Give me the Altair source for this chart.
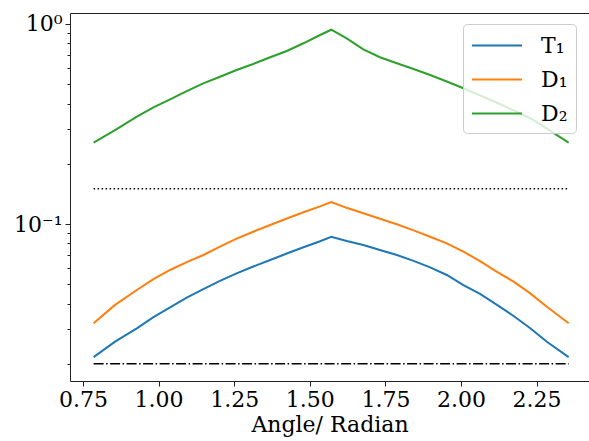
import altair as alt
import pandas as pd

# ---- data ----
x_vals = [0.785, 0.856, 0.928, 0.983, 1.038, 1.093, 1.148, 1.203, 1.258, 1.313,
          1.369, 1.424, 1.479, 1.534, 1.571, 1.622, 1.677, 1.732, 1.788, 1.843,
          1.898, 1.953, 2.008, 2.063, 2.119, 2.174, 2.229, 2.284, 2.356]
t1_vals = [0.0216, 0.0258, 0.0301, 0.0342, 0.0383, 0.0428, 0.0472, 0.052, 0.0567, 0.0613,
           0.0661, 0.0712, 0.0765, 0.082, 0.0864, 0.0823, 0.0785, 0.0742, 0.070, 0.0654,
           0.0607, 0.0556, 0.0495, 0.0447, 0.0394, 0.0347, 0.0301, 0.0258, 0.0216]
d1_vals = [0.0319, 0.0394, 0.0468, 0.0530, 0.0589, 0.0645, 0.070, 0.077, 0.0845, 0.0915,
           0.0989, 0.1065, 0.1145, 0.1225, 0.1288, 0.1205, 0.1131, 0.1062, 0.0997, 0.0930,
           0.0864, 0.080, 0.0727, 0.0653, 0.0577, 0.0515, 0.045, 0.0386, 0.0319]
d2_vals = [0.255, 0.295, 0.344, 0.383, 0.420, 0.462, 0.505, 0.545, 0.589, 0.631,
           0.682, 0.733, 0.801, 0.881, 0.936, 0.848, 0.747, 0.682, 0.636, 0.596,
           0.556, 0.516, 0.477, 0.440, 0.404, 0.370, 0.338, 0.300, 0.255]
series_names = ["T₁", "D₁", "D₂"]
series_colors = ["#1f77b4", "#ff7f0e", "#2ca02c"]
rule_x_start = [0.785]
rule_x_end = [2.356]
dotted_level = [0.15]
dashdot_level = [0.02]
x_ticks = [0.75, 1.0, 1.25, 1.5, 1.75, 2.0, 2.25]
y_major = [0.1, 1.0]
y_minor = [0.02, 0.03, 0.04, 0.05, 0.06, 0.07, 0.08, 0.09,
           0.2, 0.3, 0.4, 0.5, 0.6, 0.7, 0.8, 0.9]

rows = []
for name, vals in zip(series_names, [t1_vals, d1_vals, d2_vals]):
    for xv, yv in zip(x_vals, vals):
        rows.append({"x": xv, "v": yv, "series": name})
df = pd.DataFrame(rows)

dotted_df = pd.DataFrame({"x": rule_x_start, "x2": rule_x_end, "y": dotted_level})
dashdot_df = pd.DataFrame({"x": rule_x_start, "x2": rule_x_end, "y": dashdot_level})

FONT = "DejaVu Serif"
X_DOM = [0.707, 2.4233]
Y_DOM = [0.01641, 1.135]
W, H = 519, 368

def xs():
    return alt.Scale(domain=X_DOM, nice=False, zero=False)

def ys():
    return alt.Scale(type="log", domain=Y_DOM, nice=False)

lines = alt.Chart(df).mark_line(strokeWidth=2, clip=True).encode(
    x=alt.X("x:Q", scale=xs(), axis=alt.Axis(
        values=x_ticks, format=".2f", title="Angle/ Radian", grid=False,
        labelFont=FONT, labelFontSize=22, labelColor="black", labelPadding=3,
        titleFont=FONT, titleFontSize=22, titleFontWeight="normal", titleColor="black",
        titlePadding=4, tickSize=5, tickColor="#222", domainColor="#222",
        labelFlush=False)),
    y=alt.Y("v:Q", scale=ys(), axis=alt.Axis(
        values=y_major, labelExpr="datum.value > 0.5 ? '10⁰' : '10⁻¹'",
        title=None, grid=False, labelFont=FONT, labelFontSize=22, labelColor="black",
        labelPadding=3, tickSize=5, tickColor="#222", domainColor="#222")),
    color=alt.Color("series:N", scale=alt.Scale(domain=series_names, range=series_colors),
                    legend=alt.Legend(
                        title=None, orient="none", legendX=393, legendY=11,
                        symbolType="M-1,0H3", symbolSize=625, symbolStrokeWidth=2,
                        symbolFillColor="transparent",
                        labelFont=FONT, labelFontSize=22, labelColor="black",
                        labelOffset=43, fillColor="rgba(255,255,255,0.8)",
                        strokeColor="#cccccc", cornerRadius=4, padding=8, rowPadding=9)),
    detail="series:N",
)

dotted = alt.Chart(dotted_df).mark_rule(color="black", strokeWidth=1.5, strokeDash=[1.5, 2.5]).encode(
    x=alt.X("x:Q", scale=xs(), axis=None),
    x2="x2:Q",
    y=alt.Y("y:Q", scale=ys(), axis=None),
)

dashdot = alt.Chart(dashdot_df).mark_rule(color="black", strokeWidth=1.5, strokeDash=[10, 2.5, 1.5, 2.5]).encode(
    x=alt.X("x:Q", scale=xs(), axis=None),
    x2="x2:Q",
    y=alt.Y("y:Q", scale=ys(), axis=None),
)

minor = alt.Chart(dotted_df).mark_point(opacity=0).encode(
    x=alt.X("x:Q", scale=xs(), axis=alt.Axis(orient="top", labels=False, ticks=False,
                                              grid=False, title=None, domainColor="#222")),
    y=alt.Y("y:Q", scale=ys(), axis=alt.Axis(orient="left", values=y_minor, labels=False,
                                              grid=False, title=None, tickSize=3,
                                              tickColor="#222", domain=False)),
)

chart = alt.layer(dotted, dashdot, lines, minor).resolve_scale(
    x="independent", y="independent"
).properties(
    width=W, height=H,
    padding={"left": 70, "top": 13, "right": 0, "bottom": 60},
    autosize=alt.AutoSizeParams(type="none"),
).configure_view(stroke=None)

chart.save("out.html", embed_options={"renderer": "svg", "actions": False})
